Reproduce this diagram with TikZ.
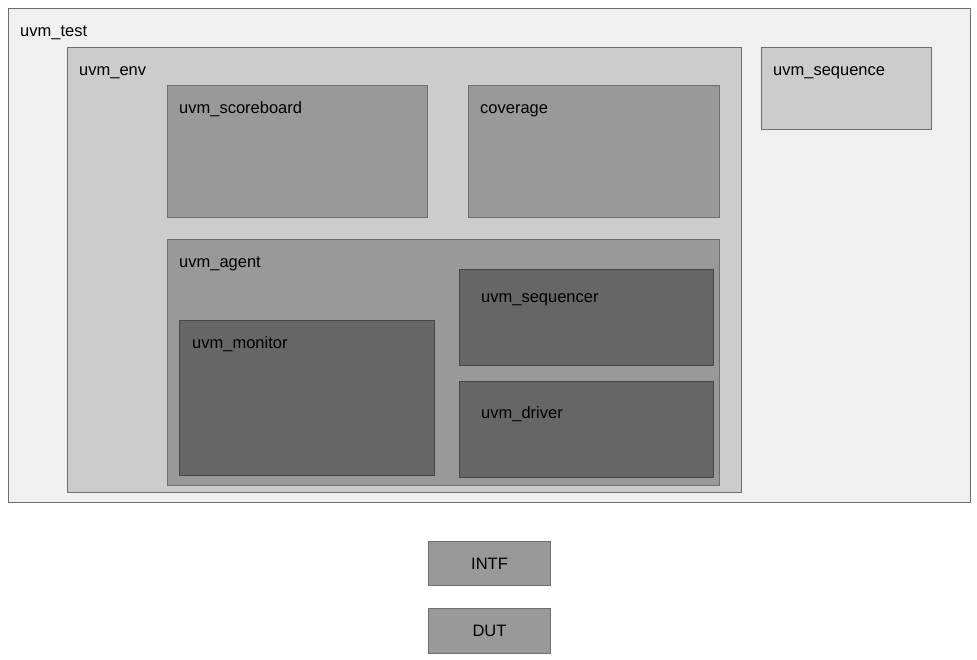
\documentclass[tikz,border=0pt]{standalone}
\usepackage{fontspec}
\setmainfont{Liberation Sans}
\definecolor{testgray}{HTML}{F0F0F0}
\definecolor{envgray}{HTML}{CCCCCC}
\definecolor{compgray}{HTML}{999999}
\definecolor{subgray}{HTML}{666666}
\definecolor{edgegray}{HTML}{6E6E6E}
\definecolor{darkedge}{HTML}{474747}

\begin{document}
\begin{tikzpicture}[x=1pt, y=-1pt]
                \tikzset{blk/.style={draw=edgegray, line width=1pt, inner sep=0pt,
                anchor=north west, fill=#1},
                 dblk/.style={blk=subgray, draw=darkedge},
                 lbl/.style={anchor=base west, inner sep=0pt,
                 font=\fontsize{16.5}{19}\selectfont}}

                \useasboundingbox (0,0) rectangle (977,659);

                \node[blk=testgray, minimum width=962, minimum height=494] (test) at (8,8) {};
                \node[lbl] (testlbl) at ([shift={(12,28)}]test.north west) {uvm\_test};

                \node[blk=envgray, minimum width=674, minimum height=445] (env) at (67,47) {};
                \node[lbl] (envlbl) at ([shift={(12,28)}]env.north west) {uvm\_env};

                \node[blk=envgray, minimum width=170, minimum height=82] (seq) at (761,47) {};
                \node[lbl] (seqlbl) at ([shift={(12,28)}]seq.north west) {uvm\_sequence};

                \node[blk=compgray, minimum width=260, minimum height=132] (scb) at (167,85) {};
                \node[lbl] (scblbl) at ([shift={(12,28)}]scb.north west) {uvm\_scoreboard};

                \node[blk=compgray, minimum width=251, minimum height=132] (cov) at (468,85) {};
                \node[lbl] (covlbl) at ([shift={(12,28)}]cov.north west) {coverage};

                \node[blk=compgray, minimum width=552, minimum height=246] (agt) at (167,239) {};
                \node[lbl] (agtlbl) at ([shift={(12,28)}]agt.north west) {uvm\_agent};

                \node[dblk, minimum width=254, minimum height=96] (sqr) at (459,269) {};
                \node[lbl] (sqrlbl) at ([shift={(22,33)}]sqr.north west) {uvm\_sequencer};

                \node[dblk, minimum width=255, minimum height=155] (mon) at (179,320) {};
                \node[lbl] (monlbl) at ([shift={(13,28)}]mon.north west) {uvm\_monitor};

                \node[dblk, minimum width=254, minimum height=96] (drv) at (459,381) {};
                \node[lbl] (drvlbl) at ([shift={(22,37)}]drv.north west) {uvm\_driver};

                \node[blk=compgray, minimum width=122, minimum height=44,
                      font=\fontsize{16.5}{19}\selectfont] (intf) at (428,541) {INTF};
                \node[blk=compgray, minimum width=122, minimum height=45,
                      font=\fontsize{16.5}{19}\selectfont] (dut) at (428,608) {DUT};
\end{tikzpicture}
\end{document}
